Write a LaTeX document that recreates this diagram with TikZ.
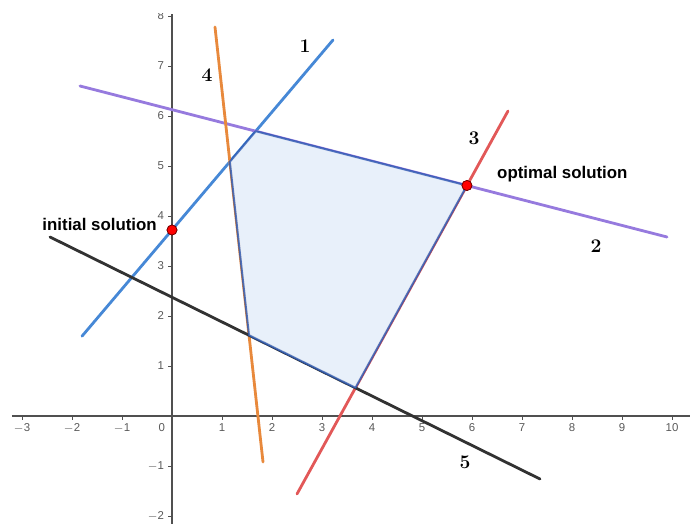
\documentclass[tikz,border=0pt]{standalone}
\usepackage{fontspec}
\setsansfont{Liberation Sans}
\usetikzlibrary{arrows.meta,positioning}
\definecolor{lineone}{RGB}{70,136,214}
\definecolor{linetwo}{RGB}{150,122,222}
\definecolor{linethree}{RGB}{226,88,88}
\definecolor{linefour}{RGB}{232,137,60}
\definecolor{linefive}{RGB}{50,50,50}
\definecolor{regionfill}{RGB}{230,238,249}
\definecolor{regionedge}{RGB}{40,85,175}
\definecolor{axisgray}{RGB}{80,80,80}

\begin{document}
\begin{tikzpicture}[x=1cm,y=1cm,
		constraint/.style={line width=1.6pt,line cap=round},
		ticklabel/.style={font=\sffamily\fontsize{6.5}{7}\selectfont,text=black!65,inner sep=1pt},
		linelabel/.style={font=\bfseries\fontsize{11}{13}\selectfont},
		pointlabel/.style={font=\sffamily\bfseries\fontsize{9.6}{11}\selectfont},
		solution/.style={fill=red,draw=red!45!black,line width=0.4pt}]
	\useasboundingbox (-3.44,-2.16) rectangle (10.36,8.32);
	\clip (-3.44,-2.16) rectangle (10.36,8.04);
	\draw[axisgray,line width=0.6pt] (-3.2,0) -- (10.36,0);
	\draw[axisgray,line width=0.6pt] (0,-2.3) -- (0,8.04);
	\foreach \x/\t in {-3/{$-$3},-2/{$-$2},-1/{$-$1},1/1,2/2,3/3,4/4,5/5,6/6,7/7,8/8,9/9,10/10}
		\draw[axisgray,line width=0.5pt] (\x,0) -- (\x,-0.08) node[ticklabel,below=1pt] {\t};
	\foreach \y/\t in {-2/{$-$2},-1/{$-$1},1/1,2/2,3/3,4/4,5/5,6/6,7/7,8/8}
		\draw[axisgray,line width=0.5pt] (0,\y) -- (-0.08,\y) node[ticklabel,left=1pt] {\t};
	\node[ticklabel,anchor=north east] (origin) at (-0.1,-0.1) {0};
	\draw[constraint,lineone] (-1.8,1.596) -- (3.22,7.52);
	\draw[constraint,linetwo] (-1.84,6.6) -- (9.9,3.58);
	\draw[constraint,linethree] (2.5,-1.56) -- (6.72,6.1);
	\draw[constraint,linefour] (0.86,7.78) -- (1.82,-0.92);
	\draw[constraint,linefive] (-2.44,3.58) -- (7.36,-1.26);
	\coordinate (a) at (1.157,5.086);
	\coordinate (b) at (1.675,5.696);
	\coordinate (opt) at (5.899,4.610);
	\coordinate (c) at (3.669,0.563);
	\coordinate (d) at (1.540,1.614);
	\coordinate (init) at (0,3.72);
	\fill[regionfill,opacity=0.9] (a) -- (b) -- (opt) -- (c) -- (d) -- cycle;
	\draw[regionedge,line width=1.1pt,opacity=0.8,line join=round] (a) -- (b) -- (opt) -- (c) -- (d) -- cycle;
	\fill[solution] (init) circle (0.1);
	\fill[solution] (opt) circle (0.1);
	\draw[solution] (init) circle (0.1);
	\draw[solution] (opt) circle (0.1);
	\node[linelabel] (one) at (2.66,7.4) {1};
	\node[linelabel] (two) at (8.48,3.4) {2};
	\node[linelabel] (three) at (6.04,5.56) {3};
	\node[linelabel] (four) at (0.7,6.82) {4};
	\node[linelabel] (five) at (5.86,-0.92) {5};
	\node[pointlabel,anchor=west] (optlabel) at (6.38,4.84) {optimal solution};
	\node[pointlabel,anchor=east] (initlabel) at (-0.18,3.83) {initial solution};
\end{tikzpicture}
\end{document}
